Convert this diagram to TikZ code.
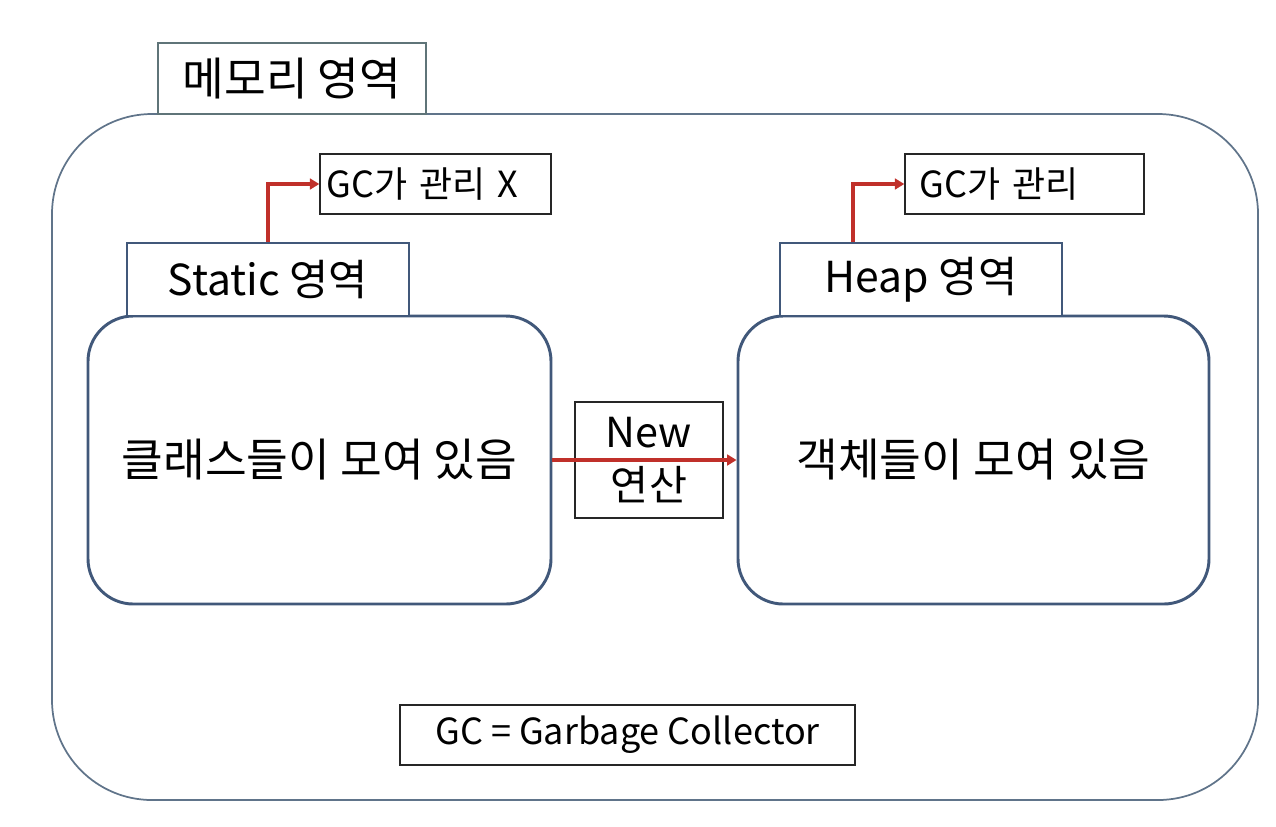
\documentclass[tikz,border=0pt]{standalone}
\usepackage{fontspec}
\setmainfont{Noto Sans CJK KR}
\usetikzlibrary{positioning,arrows.meta}
\definecolor{boxblue}{HTML}{41587A}
\definecolor{outergray}{HTML}{60748A}
\definecolor{tabgray}{HTML}{5F7478}
\definecolor{arrowred}{HTML}{C0302A}

\begin{document}
\begin{tikzpicture}[x=0.75pt,y=-0.75pt,
	bigtext/.style={font=\fontsize{34pt}{40pt}\selectfont},
	tabtext/.style={font=\fontsize{32pt}{38pt}\selectfont},
	smalltext/.style={font=\fontsize{27pt}{32pt}\selectfont},
	tabbox/.style={draw=boxblue,line width=2.2pt,fill=white,minimum width=211.5pt,minimum height=54.75pt,inner sep=0pt,tabtext},
	areabox/.style={draw=boxblue,line width=2.2pt,rounded corners=34pt,minimum height=216pt,inner sep=0pt,bigtext},
	gcbox/.style={draw=black!85,line width=1.3pt,minimum height=45pt,inner ysep=0pt,align=left,smalltext},
	redarrow/.style={draw=arrowred,line width=2.8pt,-{Triangle[length=7pt,width=8pt]}}]
	\useasboundingbox (0,0) rectangle (1276,826);
	% outer memory area
	\node[draw=outergray,line width=1.3pt,rounded corners=75pt,minimum width=904.5pt,minimum height=514.5pt] (memory) at (655,457) {};
	\node[draw=tabgray,line width=1.3pt,fill=white,minimum width=201pt,minimum height=53.25pt,inner sep=0pt,bigtext] (memtab) at (292,78.5) {메모리 영역};
	% static side
	\node[areabox,minimum width=347.25pt] (sarea) at (319.5,460) {클래스들이 모여 있음};
	\node[tabbox] (stab) at (268,279.5) {Static 영역};
	\node[gcbox,inner xsep=5pt,text width=163pt] (gcx) at (435.5,184) {GC가 관리 X};
	% heap side
	\node[areabox,minimum width=353.25pt] (harea) at (973.5,460) {객체들이 모여 있음};
	\node[tabbox] (htab) at (921,279.5) {Heap 영역};
	\node[gcbox,inner xsep=11pt,text width=157pt] (gc) at (1024.5,184) {GC가 관리};
	% new
	\node[draw=black!85,line width=1.3pt,minimum width=111pt,minimum height=87pt,inner sep=0pt,align=center,font=\fontsize{31pt}{40pt}\selectfont] (new) at (649,460) {New\\연산};
	\node[gcbox,align=center,minimum width=341.25pt] (legend) at (627.5,735) {GC = Garbage Collector};
	% arrows
	\draw[redarrow] (stab.north) |- (gcx.west);
	\draw[redarrow] ([xshift=-51pt]htab.north) |- (gc.west);
	\draw[redarrow] (sarea.east) -- (harea.west);
\end{tikzpicture}
\end{document}
